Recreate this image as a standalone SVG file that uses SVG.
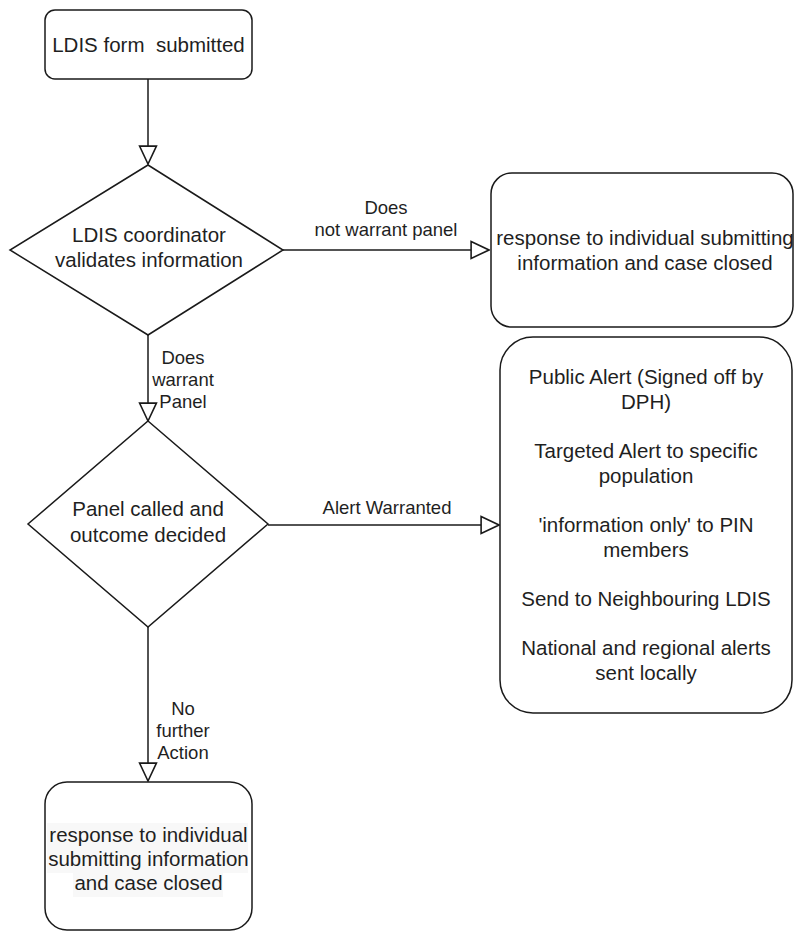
<svg xmlns="http://www.w3.org/2000/svg" width="795" height="933" viewBox="0 0 795 933">
<style>
.shape{fill:#ffffff;stroke:#1a1a1a;stroke-width:1.5}
.t{font-family:"Liberation Sans",Arial,sans-serif;font-size:20.5px;fill:#1f1f1f;text-anchor:middle}
.lbl{font-family:"Liberation Sans",Arial,sans-serif;font-size:18.5px;fill:#1f1f1f;text-anchor:middle}
.edge{fill:none;stroke:#1a1a1a;stroke-width:1.5}
</style>
<defs>
<marker id="arr" markerUnits="userSpaceOnUse" markerWidth="20" markerHeight="20" viewBox="-1 -1 19 18" refX="17" refY="8" orient="auto">
<path d="M0,0 L17,8 L0,16 Z" fill="#ffffff" stroke="#1a1a1a" stroke-width="1.5"/>
</marker>
</defs>
<rect width="795" height="933" fill="#ffffff"/>
<g id="connectors">
<line class="edge" x1="148" y1="79" x2="148" y2="164" marker-end="url(#arr)"/>
<line class="edge" x1="283" y1="250" x2="489" y2="250" marker-end="url(#arr)"/>
<line class="edge" x1="148" y1="335" x2="148" y2="421" marker-end="url(#arr)"/>
<line class="edge" x1="268" y1="525" x2="499" y2="525" marker-end="url(#arr)"/>
<line class="edge" x1="148" y1="627" x2="148" y2="781" marker-end="url(#arr)"/>
<text class="lbl" x="386"><tspan x="386" y="214">Does</tspan><tspan x="386" y="236">not warrant panel</tspan></text>
<text class="lbl"><tspan x="183" y="364">Does</tspan><tspan x="183" y="386">warrant</tspan><tspan x="183" y="408">Panel</tspan></text>
<text class="lbl" x="387" y="514">Alert Warranted</text>
<text class="lbl"><tspan x="183" y="715">No</tspan><tspan x="183" y="737">further</tspan><tspan x="183" y="759">Action</tspan></text>
</g>
<g id="n-start">
<rect class="shape" x="45" y="10" width="207" height="69" rx="10" ry="10"/>
<text class="t" x="148.5" y="52" xml:space="preserve">LDIS form  submitted</text>
</g>
<g id="n-validate">
<polygon class="shape" points="148,165 283,250 148,335 10,250"/>
<text class="t"><tspan x="149" y="242">LDIS coordinator</tspan><tspan x="149" y="267">validates information</tspan></text>
</g>
<g id="n-closed1">
<rect class="shape" x="491" y="173" width="302" height="154" rx="21" ry="21"/>
<text class="t"><tspan x="645" y="245">response to individual submitting</tspan><tspan x="645" y="270">information and case closed</tspan></text>
</g>
<g id="n-panel">
<polygon class="shape" points="148,421 268,524 148,627 28,524"/>
<text class="t"><tspan x="148" y="516">Panel called and</tspan><tspan x="148" y="542">outcome decided</tspan></text>
</g>
<g id="n-alerts">
<rect class="shape" x="500" y="337" width="292" height="376" rx="33" ry="33"/>
<text class="t"><tspan x="646" y="384">Public Alert (Signed off by</tspan><tspan x="646" y="409">DPH)</tspan><tspan x="646" y="458">Targeted Alert to specific</tspan><tspan x="646" y="483">population</tspan><tspan x="646" y="532">'information only' to PIN</tspan><tspan x="646" y="557">members</tspan><tspan x="646" y="606">Send to Neighbouring LDIS</tspan><tspan x="646" y="655">National and regional alerts</tspan><tspan x="646" y="680">sent locally</tspan></text>
</g>
<g id="n-closed2">
<rect class="shape" x="45" y="782" width="207" height="148" rx="22" ry="22"/>
<rect x="47" y="823" width="201" height="50" fill="#f8f8f8"/>
<rect x="73" y="873" width="150" height="24" fill="#f8f8f8"/>
<text class="t"><tspan x="148.5" y="842">response to individual</tspan><tspan x="148.5" y="866">submitting information</tspan><tspan x="148.5" y="890">and case closed</tspan></text>
</g>
</svg>
